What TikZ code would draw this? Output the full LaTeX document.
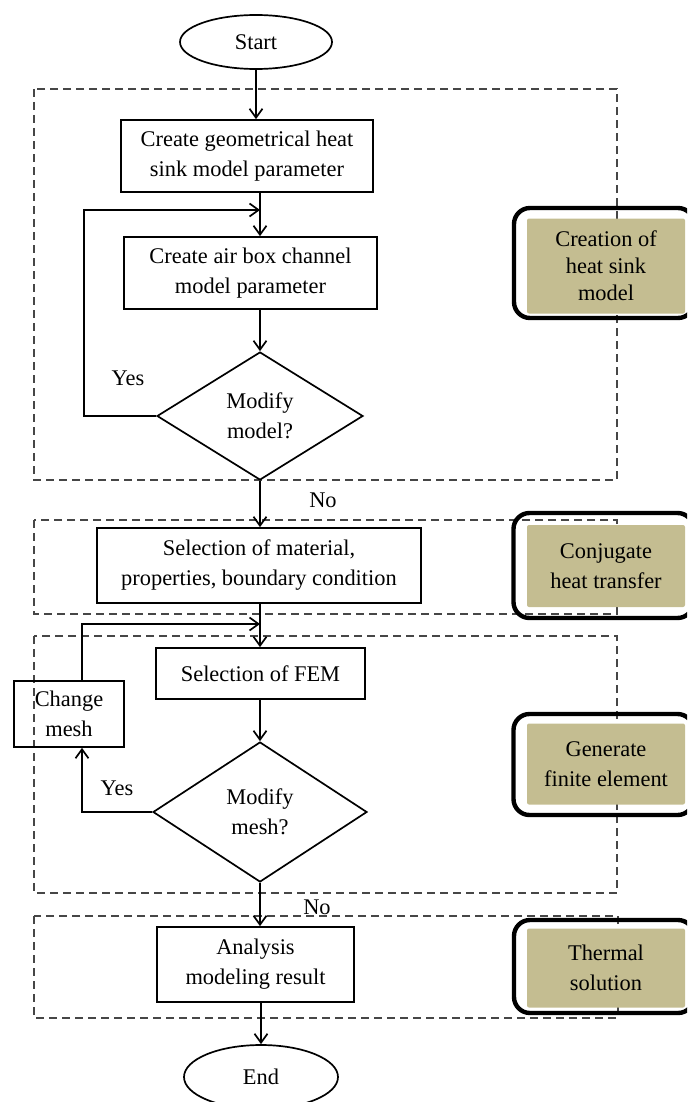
\documentclass[tikz,border=0pt]{standalone}
\usepackage{fontspec}
\setmainfont{Liberation Serif}
\usetikzlibrary{arrows.meta,shapes.geometric}
\definecolor{khaki}{RGB}{196,189,145}
\definecolor{frameg}{RGB}{70,70,70}

\begin{document}
\begin{tikzpicture}[x=0.5pt,y=-0.5pt,
  font=\fontsize{11.2}{15}\selectfont,
  box/.style={rectangle, draw, line width=0.85pt, align=center, inner sep=0pt},
  term/.style={ellipse, draw, line width=0.85pt, inner sep=0pt},
  ask/.style={diamond, draw, line width=0.85pt, align=center, inner sep=0pt},
  group/.style={draw=frameg, line width=0.6pt, dash pattern=on 4pt off 2.5pt},
  frame/.style={rectangle, draw, rounded corners=8pt, line width=2.2pt, minimum width=90pt},
  phase/.style={rectangle, fill=khaki, rounded corners=1pt, align=center, minimum width=79pt},
  arr/.style={line width=0.85pt, -{Straight Barb[length=4.5pt,width=6.5pt]}}]
\useasboundingbox (0,0) rectangle (687,1102);
\clip (0,0) rectangle (687,1102);

\draw[group] (34,89) rectangle (617,480);
\draw[group] (34,520) rectangle (617,614);
\draw[group] (34,636) rectangle (617,893);
\draw[group] (34,916) rectangle (618,1018);

\node[term, minimum width=76pt, minimum height=27pt] (start) at (256,42) {Start};
\node[box, minimum width=126pt, minimum height=36pt] (geo) at (247,156) {Create geometrical heat\\sink model parameter};
\node[box, minimum width=126.5pt, minimum height=36pt] (air) at (250.5,273) {Create air box channel\\model parameter};
\node[ask, minimum width=103pt, minimum height=64pt] (mod) at (260,416) {Modify\\model?};
\node[box, minimum width=162pt, minimum height=37.5pt] (mat) at (259,565.5) {Selection of material,\\properties, boundary condition};
\node[box, minimum width=104.5pt, minimum height=25.5pt] (fem) at (260.5,673.5) {Selection of FEM};
\node[ask, minimum width=107pt, minimum height=70pt] (msh) at (260,812) {Modify\\mesh?};
\node[box, minimum width=55pt, minimum height=33pt] (chg) at (69,714) {Change\\mesh};
\node[box, minimum width=98.5pt, minimum height=37.5pt] (res) at (255.5,964.5) {Analysis\\modeling result};
\node[term, minimum width=77pt, minimum height=32pt] (fin) at (261,1077) {End};

\node[frame, minimum height=55pt] (f1) at (604,263) {};
\node[phase, minimum height=47.5pt, font=\fontsize{11.2}{13.5}\selectfont] (p1) at (606,266) {Creation of\\heat sink\\model};
\node[frame, minimum height=52.5pt] (f2) at (603.5,565.5) {};
\node[phase, minimum height=41pt] (p2) at (606,566) {Conjugate\\heat transfer};
\node[frame, minimum height=50.5pt] (f3) at (603.5,764.5) {};
\node[phase, minimum height=40.5pt] (p3) at (606,764) {Generate\\finite element};
\node[frame, minimum height=46.5pt] (f4) at (604,966.5) {};
\node[phase, minimum height=39.5pt] (p4) at (606,968) {Thermal\\solution};

\draw[arr] (start) -- (start |- geo.north);
\draw[arr] (geo.south -| mod) -- (air.north -| mod);
\draw[arr] (air.south -| mod) -- (mod.north);
\coordinate (back1) at (84,210);
\draw[arr] (mod.west) -| (back1) -- (back1 -| mod);
\draw[arr] (mod.south) -- (mat.north -| mod);
\draw[arr] (mat.south -| msh) -- (fem.north -| msh);
\draw[arr] (fem.south -| msh) -- (msh.north);
\coordinate (back2) at (82,624);
\draw[arr] (msh.west) -| (chg.south -| back2);
\draw[arr] (chg.north -| back2) |- (back2 -| msh);
\draw[arr] (msh.south) -- (res.north -| msh);
\draw[arr] (res.south -| fin) -- (fin.north);

\node (yes1) at (128,378) {Yes};
\node (no1) at (323,500) {No};
\node (yes2) at (117,788) {Yes};
\node (no2) at (317,907) {No};
\end{tikzpicture}
\end{document}
